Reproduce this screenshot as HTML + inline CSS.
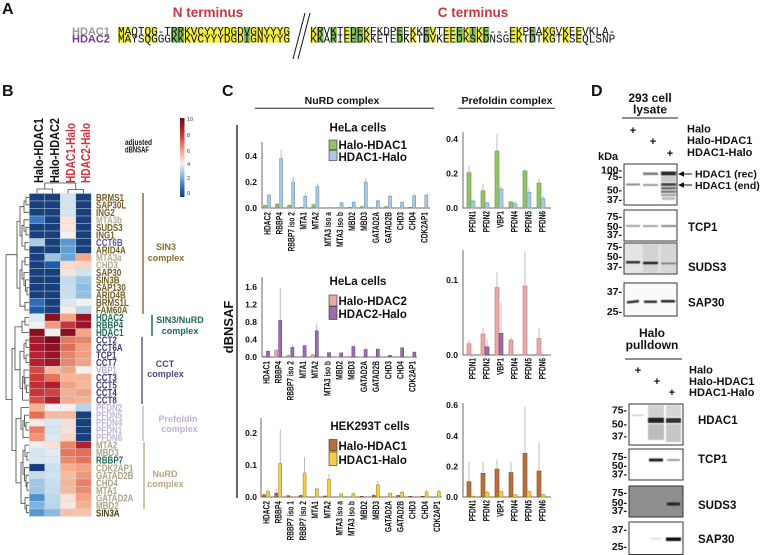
<!DOCTYPE html>
<html><head><meta charset="utf-8">
<style>
html,body{margin:0;padding:0;background:#fff;}
svg{display:block;font-family:"Liberation Sans",Arial,sans-serif;font-weight:bold;}
.b rect,.b line,.hm rect{vector-effect:non-scaling-stroke;}
.ax{stroke:#6a6a6a;stroke-width:1;fill:none}
.er{stroke:#a0a0a0;stroke-width:0.7}
.g{fill:#93c266;stroke:#6a9446;stroke-width:0.6}
.bl{fill:#a9c9e1;stroke:#6f96b5;stroke-width:0.6}
.pk{fill:#eba8a8;stroke:#b57478;stroke-width:0.6}
.pu{fill:#9c6cac;stroke:#6b4581;stroke-width:0.6}
.br{fill:#b9703d;stroke:#80461f;stroke-width:0.6}
.ye{fill:#f5cd45;stroke:#a88c25;stroke-width:0.6}
.d{fill:#19407d}
.xl text{font-size:9px;fill:#111}
.yl text{font-size:8.5px;fill:#111;text-anchor:end}
.rl text{font-size:10px}
.s{fill:#735d25}.t{fill:#b4ab92}.c6{fill:#5b55a0}.h{fill:#1e6a55}.c{fill:#3c3a75}.v{fill:#b8b1cf}.p{fill:#bfb5d3}.n{fill:#aba38a}.k{fill:#4a3c15}
.mk text{font-size:10.5px;text-anchor:end;fill:#111}
.dl{font-size:11.5px;fill:#111}
.seq{font-family:"Liberation Mono",monospace;font-weight:normal;font-size:11.5px;fill:#111}
</style></head><body>
<svg width="760" height="555" viewBox="0 0 760 555" xmlns="http://www.w3.org/2000/svg">
<defs>
<linearGradient id="cb" x1="0" y1="0" x2="0" y2="1">
<stop offset="0" stop-color="#6b0a20"/><stop offset="0.2" stop-color="#c0323a"/><stop offset="0.4" stop-color="#f0a080"/><stop offset="0.58" stop-color="#f5f0ee"/><stop offset="0.75" stop-color="#7fb0d8"/><stop offset="0.88" stop-color="#2e6db0"/><stop offset="1" stop-color="#173b78"/>
</linearGradient>
<filter id="bl1" x="-20%" y="-100%" width="140%" height="300%"><feGaussianBlur stdDeviation="0.6"/></filter>
</defs>
<rect width="760" height="555" fill="#fff"/>

<!-- ===== Panel A ===== -->
<text x="2" y="14" font-size="16" fill="#111">A</text>
<text x="208" y="17" font-size="13.5" fill="#c8373f" text-anchor="middle">N terminus</text>
<text x="473" y="17" font-size="13.5" fill="#c8373f" text-anchor="middle">C terminus</text>
<text x="72" y="35" font-size="11" fill="#9e9499">HDAC1</text>
<text x="72" y="42.5" font-size="11" fill="#6c3d91">HDAC2</text>
<g fill="#f4ef3c">
<rect x="118" y="27" width="13.23" height="15.6"/><rect x="144.46" y="27" width="13.23" height="15.6"/><rect x="184.15" y="27" width="59.54" height="15.6"/><rect x="250.3" y="27" width="39.69" height="15.6"/>
<rect x="310.3" y="27" width="6.63" height="15.6"/><rect x="343.45" y="27" width="6.63" height="15.6"/><rect x="363.34" y="27" width="6.63" height="15.6"/><rect x="409.75" y="27" width="6.63" height="15.6"/><rect x="429.64" y="27" width="6.63" height="15.6"/><rect x="442.9" y="27" width="13.26" height="15.6"/><rect x="462.79" y="27" width="6.63" height="15.6"/><rect x="476.05" y="27" width="6.63" height="15.6"/><rect x="509.2" y="27" width="13.26" height="15.6"/><rect x="542.35" y="27" width="13.26" height="15.6"/><rect x="562.24" y="27" width="6.63" height="15.6"/><rect x="575.5" y="27" width="6.63" height="15.6"/>
</g>
<g fill="#80c05e">
<rect x="170.92" y="27" width="13.23" height="15.6"/><rect x="243.69" y="27" width="6.615" height="15.6"/>
<rect x="316.93" y="27" width="6.63" height="15.6"/><rect x="330.19" y="27" width="6.63" height="15.6"/><rect x="350.08" y="27" width="13.26" height="15.6"/><rect x="396.49" y="27" width="6.63" height="15.6"/><rect x="423.01" y="27" width="6.63" height="15.6"/><rect x="456.16" y="27" width="6.63" height="15.6"/><rect x="469.42" y="27" width="6.63" height="15.6"/><rect x="482.68" y="27" width="6.63" height="15.6"/><rect x="529.09" y="27" width="6.63" height="15.6"/>
</g>
<text class="seq" x="118" y="34.8" textLength="172" lengthAdjust="spacingAndGlyphs">MAQTQG-TRRKVCYYYDGDVGNYYYG</text>
<text class="seq" x="118" y="42.3" textLength="172" lengthAdjust="spacingAndGlyphs">MAYSQGGGKKKVCYYYDGDIGNYYYG</text>
<text class="seq" x="310.3" y="34.8" textLength="305" lengthAdjust="spacingAndGlyphs">KRVKTEDEKEKDPEEKKEVTEEEKTKE---EKPEAKGVKEEVKLA-</text>
<text class="seq" x="310.3" y="42.3" textLength="305" lengthAdjust="spacingAndGlyphs">KKARIEEDKKETEDKKTDVKEEDKSKDNSGEKTDTKGTKSEQLSNP</text>
<line x1="293" y1="59" x2="305" y2="13" stroke="#111" stroke-width="1"/>
<line x1="298" y1="59" x2="310" y2="13" stroke="#111" stroke-width="1"/>

<!-- ===== Panel B ===== -->
<text x="2" y="96" font-size="16" fill="#111">B</text>
<g font-size="13">
<text transform="translate(43,183) rotate(-90)" textLength="65" lengthAdjust="spacingAndGlyphs" fill="#111">Halo-HDAC1</text>
<text transform="translate(59,183) rotate(-90)" textLength="65" lengthAdjust="spacingAndGlyphs" fill="#111">Halo-HDAC2</text>
<text transform="translate(75,183) rotate(-90)" textLength="60" lengthAdjust="spacingAndGlyphs" fill="#d0313a">HDAC1-Halo</text>
<text transform="translate(90,183) rotate(-90)" textLength="60" lengthAdjust="spacingAndGlyphs" fill="#d0313a">HDAC2-Halo</text>
</g>
<text x="125" y="145" font-size="8.5" textLength="27" lengthAdjust="spacingAndGlyphs" fill="#111">adjusted</text>
<text x="125" y="152.5" font-size="8.5" textLength="24" lengthAdjust="spacingAndGlyphs" fill="#111">dBNSAF</text>
<rect x="180" y="118" width="4.5" height="79" fill="url(#cb)"/>
<g font-size="5.5" font-weight="normal" fill="#333">
<text x="187" y="121">10</text><text x="187" y="137">8</text><text x="187" y="153">6</text><text x="187" y="166">4</text><text x="187" y="180">2</text><text x="187" y="195">0</text>
</g>
<g stroke="#444" stroke-width="0.8" fill="none">
<path d="M37 193.5 V189 H52.5 V193.5"/><path d="M68 193.5 V189.5 H83.5 V193.5"/><path d="M44.8 189 V183 H75.8 V189.5"/>
</g>
<g stroke="#444" stroke-width="0.8" fill="none">
<path d="M29 197.3 H26 V204.8 H29"/><path d="M26 201.05 H24 V212.3 H29"/><path d="M29 227.3 H26 V234.9 H29"/><path d="M29 219.8 H24 V231.1 H26"/><path d="M29 242.4 H25 V249.9 H29"/><path d="M24 225.45 H22 V246.15 H25"/><path d="M24 206.7 H20 V235.8 H22"/>
<path d="M29 257.4 H25 V264.9 H29"/><path d="M29 287.4 H27 V294.9 H29"/><path d="M29 279.9 H25.5 V291.15 H27"/><path d="M29 272.4 H24 V285.5 H25.5"/><path d="M25 261.15 H22 V278.95 H24"/><path d="M29 302.4 H25 V310 H29"/><path d="M22 270.05 H20 V306.2 H25"/><path d="M20 221.25 H17 V288.1 H20"/>
<path d="M29 317.5 H25 V325 H29"/><path d="M25 321.25 H22 V332.5 H29"/>
<path d="M29 340 H26 V347.5 H29"/><path d="M29 355 H26 V362.5 H29"/><path d="M26 343.75 H24 V358.75 H26"/><path d="M29 385.1 H26.5 V392.6 H29"/><path d="M29 377.5 H25 V388.85 H26.5"/><path d="M29 370 H24 V383.2 H25"/><path d="M24 376.6 H22.5 V400.1 H29"/><path d="M24 351.25 H20 V388.35 H22.5"/><path d="M22 326.9 H15 V369.8 H20"/>
<path d="M29 422.6 H26 V430.1 H29"/><path d="M29 415.1 H24.5 V426.35 H26"/><path d="M24.5 420.7 H23 V437.6 H29"/><path d="M29 407.6 H21 V429.15 H23"/>
<path d="M29 452.6 H27 V460.1 H29"/><path d="M29 445.1 H25 V456.35 H27"/><path d="M29 482.7 H27 V490.2 H29"/><path d="M29 475.2 H26 V486.45 H27"/><path d="M29 467.7 H24.5 V480.8 H26"/><path d="M25 450.7 H23 V474.25 H24.5"/><path d="M29 505.2 H26.5 V512.7 H29"/><path d="M29 497.7 H25 V508.95 H26.5"/><path d="M23 462.5 H21 V503.3 H25"/>
<path d="M21 418.4 H16 V482.9 H21"/><path d="M15 348.35 H12 V450.65 H16"/><path d="M17 254.7 H6 V399.5 H12"/>
</g>
<g class="hm" transform="translate(29.3,193.5) scale(15.5,7.51)" stroke="#cfd7df" stroke-width="0.4">
<rect class="d" x="0" y="0" width="1" height="1"/><rect class="d" x="1" y="0" width="1" height="1"/><rect x="2" y="0" width="1" height="1" fill="#d3e4ef"/><rect class="d" x="3" y="0" width="1" height="1"/>
<rect class="d" x="0" y="1" width="1" height="1"/><rect class="d" x="1" y="1" width="1" height="1"/><rect x="2" y="1" width="1" height="1" fill="#d3e4ef"/><rect class="d" x="3" y="1" width="1" height="1"/>
<rect class="d" x="0" y="2" width="1" height="1"/><rect class="d" x="1" y="2" width="1" height="1"/><rect x="2" y="2" width="1" height="1" fill="#d6e6f0"/><rect class="d" x="3" y="2" width="1" height="1"/>
<rect x="0" y="3" width="1" height="1" fill="#3a78bf"/><rect class="d" x="1" y="3" width="1" height="1"/><rect x="2" y="3" width="1" height="1" fill="#f8e4da"/><rect class="d" x="3" y="3" width="1" height="1"/>
<rect class="d" x="0" y="4" width="1" height="1"/><rect class="d" x="1" y="4" width="1" height="1"/><rect x="2" y="4" width="1" height="1" fill="#fae6dd"/><rect class="d" x="3" y="4" width="1" height="1"/>
<rect class="d" x="0" y="5" width="1" height="1"/><rect class="d" x="1" y="5" width="1" height="1"/><rect x="2" y="5" width="1" height="1" fill="#f3f1f0"/><rect class="d" x="3" y="5" width="1" height="1"/>
<rect x="0" y="6" width="1" height="1" fill="#a9cde4"/><rect class="d" x="1" y="6" width="1" height="1"/><rect x="2" y="6" width="1" height="1" fill="#5a9ad0"/><rect class="d" x="3" y="6" width="1" height="1"/>
<rect class="d" x="0" y="7" width="1" height="1"/><rect class="d" x="1" y="7" width="1" height="1"/><rect x="2" y="7" width="1" height="1" fill="#5f9ed2"/><rect class="d" x="3" y="7" width="1" height="1"/>
<rect class="d" x="0" y="8" width="1" height="1"/><rect x="1" y="8" width="1" height="1" fill="#9cc4e0"/><rect x="2" y="8" width="1" height="1" fill="#6aa5d5"/><rect x="3" y="8" width="1" height="1" fill="#f3aa8b"/>
<rect class="d" x="0" y="9" width="1" height="1"/><rect x="1" y="9" width="1" height="1" fill="#1c5db0"/><rect x="2" y="9" width="1" height="1" fill="#fbd9cb"/><rect x="3" y="9" width="1" height="1" fill="#fbd4c3"/>
<rect class="d" x="0" y="10" width="1" height="1"/><rect class="d" x="1" y="10" width="1" height="1"/><rect x="2" y="10" width="1" height="1" fill="#fce3d8"/><rect x="3" y="10" width="1" height="1" fill="#d0e4ef"/>
<rect class="d" x="0" y="11" width="1" height="1"/><rect class="d" x="1" y="11" width="1" height="1"/><rect x="2" y="11" width="1" height="1" fill="#c2dcec"/><rect x="3" y="11" width="1" height="1" fill="#a0c7e2"/>
<rect class="d" x="0" y="12" width="1" height="1"/><rect class="d" x="1" y="12" width="1" height="1"/><rect x="2" y="12" width="1" height="1" fill="#c6def0"/><rect x="3" y="12" width="1" height="1" fill="#8dbde0"/>
<rect class="d" x="0" y="13" width="1" height="1"/><rect class="d" x="1" y="13" width="1" height="1"/><rect x="2" y="13" width="1" height="1" fill="#c8dfef"/><rect x="3" y="13" width="1" height="1" fill="#92c0e0"/>
<rect x="0" y="14" width="1" height="1" fill="#2c6db8"/><rect class="d" x="1" y="14" width="1" height="1"/><rect x="2" y="14" width="1" height="1" fill="#dbe9f2"/><rect x="3" y="14" width="1" height="1" fill="#f1f1f1"/>
<rect x="0" y="15" width="1" height="1" fill="#1f5aa8"/><rect class="d" x="1" y="15" width="1" height="1"/><rect x="2" y="15" width="1" height="1" fill="#f7ece6"/><rect x="3" y="15" width="1" height="1" fill="#bdd8ea"/>
<rect x="0" y="16" width="1" height="1" fill="#dde9f1"/><rect x="1" y="16" width="1" height="1" fill="#8e0f1f"/><rect x="2" y="16" width="1" height="1" fill="#f3a487"/><rect x="3" y="16" width="1" height="1" fill="#9a1324"/>
<rect x="0" y="17" width="1" height="1" fill="#f3efee"/><rect x="1" y="17" width="1" height="1" fill="#ee9b7b"/><rect x="2" y="17" width="1" height="1" fill="#c8353b"/><rect x="3" y="17" width="1" height="1" fill="#9d1426"/>
<rect x="0" y="18" width="1" height="1" fill="#8b0e20"/><rect x="1" y="18" width="1" height="1" fill="#f4eeee"/><rect x="2" y="18" width="1" height="1" fill="#8e1020"/><rect x="3" y="18" width="1" height="1" fill="#f3a688"/>
<rect x="0" y="19" width="1" height="1" fill="#a8182b"/><rect x="1" y="19" width="1" height="1" fill="#7a0a1c"/><rect x="2" y="19" width="1" height="1" fill="#e07a62"/><rect x="3" y="19" width="1" height="1" fill="#e5866a"/>
<rect x="0" y="20" width="1" height="1" fill="#a51a2c"/><rect x="1" y="20" width="1" height="1" fill="#8f1022"/><rect x="2" y="20" width="1" height="1" fill="#dd6f58"/><rect x="3" y="20" width="1" height="1" fill="#eea183"/>
<rect x="0" y="21" width="1" height="1" fill="#b8232f"/><rect x="1" y="21" width="1" height="1" fill="#9a1326"/><rect x="2" y="21" width="1" height="1" fill="#e3846a"/><rect x="3" y="21" width="1" height="1" fill="#eea080"/>
<rect x="0" y="22" width="1" height="1" fill="#b4202e"/><rect x="1" y="22" width="1" height="1" fill="#a21528"/><rect x="2" y="22" width="1" height="1" fill="#e6876c"/><rect x="3" y="22" width="1" height="1" fill="#f1a587"/>
<rect x="0" y="23" width="1" height="1" fill="#d14b43"/><rect x="1" y="23" width="1" height="1" fill="#f6b89c"/><rect x="2" y="23" width="1" height="1" fill="#eea486"/><rect x="3" y="23" width="1" height="1" fill="#f5f1f0"/>
<rect x="0" y="24" width="1" height="1" fill="#cb3d3c"/><rect x="1" y="24" width="1" height="1" fill="#e6735a"/><rect x="2" y="24" width="1" height="1" fill="#f6b597"/><rect x="3" y="24" width="1" height="1" fill="#f5b496"/>
<rect x="0" y="25" width="1" height="1" fill="#c22e37"/><rect x="1" y="25" width="1" height="1" fill="#b31e2f"/><rect x="2" y="25" width="1" height="1" fill="#f1a080"/><rect x="3" y="25" width="1" height="1" fill="#f6b698"/>
<rect x="0" y="26" width="1" height="1" fill="#c53539"/><rect x="1" y="26" width="1" height="1" fill="#cf4440"/><rect x="2" y="26" width="1" height="1" fill="#f5af90"/><rect x="3" y="26" width="1" height="1" fill="#f2a385"/>
<rect x="0" y="27" width="1" height="1" fill="#d54f45"/><rect x="1" y="27" width="1" height="1" fill="#b41f30"/><rect x="2" y="27" width="1" height="1" fill="#f3ab8c"/><rect x="3" y="27" width="1" height="1" fill="#f5b395"/>
<rect x="0" y="28" width="1" height="1" fill="#f6b294"/><rect x="1" y="28" width="1" height="1" fill="#f8f0ee"/><rect x="2" y="28" width="1" height="1" fill="#f6eeea"/><rect x="3" y="28" width="1" height="1" fill="#b8d4e8"/>
<rect x="0" y="29" width="1" height="1" fill="#e56e56"/><rect x="1" y="29" width="1" height="1" fill="#f5b99d"/><rect x="2" y="29" width="1" height="1" fill="#f5b99b"/><rect class="d" x="3" y="29" width="1" height="1"/>
<rect x="0" y="30" width="1" height="1" fill="#fcebe3"/><rect x="1" y="30" width="1" height="1" fill="#d8e8f2"/><rect x="2" y="30" width="1" height="1" fill="#f7e0d6"/><rect class="d" x="3" y="30" width="1" height="1"/>
<rect x="0" y="31" width="1" height="1" fill="#ea7e62"/><rect x="1" y="31" width="1" height="1" fill="#d2e4f0"/><rect x="2" y="31" width="1" height="1" fill="#f6e2d8"/><rect class="d" x="3" y="31" width="1" height="1"/>
<rect x="0" y="32" width="1" height="1" fill="#ee9478"/><rect x="1" y="32" width="1" height="1" fill="#d9e8f1"/><rect x="2" y="32" width="1" height="1" fill="#f9d6c8"/><rect class="d" x="3" y="32" width="1" height="1"/>
<rect x="0" y="33" width="1" height="1" fill="#e9eff3"/><rect x="1" y="33" width="1" height="1" fill="#fbe0d3"/><rect x="2" y="33" width="1" height="1" fill="#e88468"/><rect x="3" y="33" width="1" height="1" fill="#b32030"/>
<rect x="0" y="34" width="1" height="1" fill="#d2e5f0"/><rect x="1" y="34" width="1" height="1" fill="#e2ecf2"/><rect x="2" y="34" width="1" height="1" fill="#e5775d"/><rect x="3" y="34" width="1" height="1" fill="#e27058"/>
<rect x="0" y="35" width="1" height="1" fill="#d6e7f1"/><rect x="1" y="35" width="1" height="1" fill="#dbe9f2"/><rect x="2" y="35" width="1" height="1" fill="#ea8a6c"/><rect x="3" y="35" width="1" height="1" fill="#e47458"/>
<rect x="0" y="36" width="1" height="1" fill="#173e7c"/><rect x="1" y="36" width="1" height="1" fill="#cde2ef"/><rect x="2" y="36" width="1" height="1" fill="#f3ae90"/><rect x="3" y="36" width="1" height="1" fill="#f2a385"/>
<rect x="0" y="37" width="1" height="1" fill="#c4dcec"/><rect x="1" y="37" width="1" height="1" fill="#cfe3ef"/><rect x="2" y="37" width="1" height="1" fill="#f6bc9f"/><rect x="3" y="37" width="1" height="1" fill="#ee9678"/>
<rect x="0" y="38" width="1" height="1" fill="#9ec6e2"/><rect x="1" y="38" width="1" height="1" fill="#c6deee"/><rect x="2" y="38" width="1" height="1" fill="#f4b496"/><rect x="3" y="38" width="1" height="1" fill="#e98063"/>
<rect x="0" y="39" width="1" height="1" fill="#9ec6e2"/><rect x="1" y="39" width="1" height="1" fill="#c4dcec"/><rect x="2" y="39" width="1" height="1" fill="#f5b89a"/><rect x="3" y="39" width="1" height="1" fill="#eb8b6e"/>
<rect x="0" y="40" width="1" height="1" fill="#4f92cc"/><rect x="1" y="40" width="1" height="1" fill="#bcd8ea"/><rect x="2" y="40" width="1" height="1" fill="#fbe3d8"/><rect x="3" y="40" width="1" height="1" fill="#f1a486"/>
<rect x="0" y="41" width="1" height="1" fill="#7fb2dc"/><rect x="1" y="41" width="1" height="1" fill="#bad6ea"/><rect x="2" y="41" width="1" height="1" fill="#f9e6de"/><rect x="3" y="41" width="1" height="1" fill="#f4b092"/>
<rect x="0" y="42" width="1" height="1" fill="#5698d0"/><rect x="1" y="42" width="1" height="1" fill="#89bbe0"/><rect x="2" y="42" width="1" height="1" fill="#f6c1a6"/><rect x="3" y="42" width="1" height="1" fill="#f7c2a8"/>
</g>
<g class="rl" transform="translate(96,0) scale(0.8,1)">
<text class="s" y="200.9">BRMS1</text><text class="s" y="208.4">SAP30L</text><text class="s" y="215.9">ING2</text><text class="t" y="223.4">MTA3b</text><text class="s" y="230.9">SUDS3</text><text class="s" y="238.5">ING1</text><text class="c6" y="246">CCT6B</text><text class="s" y="253.5">ARID4A</text><text class="t" y="261">MTA3a</text><text class="t" y="268.5">CHD3</text><text class="s" y="276">SAP30</text><text class="s" y="283.5">SIN3B</text><text class="s" y="291">SAP130</text><text class="s" y="298.5">ARID4B</text><text class="s" y="306">BRMS1L</text><text class="s" y="313.6">FAM60A</text>
<text class="h" y="321.1">HDAC2</text><text class="h" y="328.6">RBBP4</text><text class="h" y="336.1">HDAC1</text>
<text class="c" y="343.6">CCT2</text><text class="c" y="351.1">CCT6A</text><text class="c" y="358.6">TCP1</text><text class="c" y="366.1">CCT7</text><text class="v" y="373.6">VBP1</text><text class="c" y="381.1">CCT3</text><text class="c" y="388.7">CCT5</text><text class="c" y="396.2">CCT4</text><text class="c" y="403.7">CCT8</text>
<text class="p" y="411.2">PFDN2</text><text class="p" y="418.7">PFDN5</text><text class="p" y="426.2">PFDN4</text><text class="p" y="433.7">PFDN1</text><text class="p" y="441.2">PFDN6</text>
<text class="n" y="448.7">MTA2</text><text class="n" y="456.2">MBD3</text><text class="h" y="463.7">RBBP7</text><text class="n" y="471.3">CDK2AP1</text><text class="n" y="478.8">GATAD2B</text><text class="n" y="486.3">CHD4</text><text class="n" y="493.8">MTA1</text><text class="n" y="501.3">GATAD2A</text><text class="n" y="508.8">MBD2</text><text class="k" y="516.3">SIN3A</text>
</g>
<line x1="143" y1="193" x2="143" y2="314" stroke="#8a7040" stroke-width="1.5"/>
<text x="166" y="250" font-size="9" fill="#8a6d2a" text-anchor="middle">SIN3</text>
<text x="166" y="261" font-size="9" fill="#8a6d2a" text-anchor="middle">complex</text>
<line x1="152" y1="315" x2="152" y2="336" stroke="#1e6a55" stroke-width="1.5"/>
<text x="180" y="323" font-size="9" fill="#1e6a55" text-anchor="middle">SIN3/NuRD</text>
<text x="180" y="334" font-size="9" fill="#1e6a55" text-anchor="middle">complex</text>
<line x1="142" y1="337" x2="142" y2="404" stroke="#5d5a8a" stroke-width="1.5"/>
<text x="165" y="367" font-size="9" fill="#4a4880" text-anchor="middle">CCT</text>
<text x="165.5" y="377" font-size="9" fill="#4a4880" text-anchor="middle">complex</text>
<line x1="143" y1="406" x2="143" y2="441" stroke="#c4b8d8" stroke-width="1.5"/>
<text x="178" y="422" font-size="9" fill="#bfb2d4" text-anchor="middle">Prefoldin</text>
<text x="179.5" y="432" font-size="9" fill="#bfb2d4" text-anchor="middle">complex</text>
<line x1="144" y1="442" x2="144" y2="509" stroke="#c0b090" stroke-width="1.5"/>
<text x="165" y="477" font-size="9" fill="#b6a680" text-anchor="middle">NuRD</text>
<text x="165.5" y="487" font-size="9" fill="#b6a680" text-anchor="middle">complex</text>

<!-- ===== Panel C ===== -->
<text x="222" y="96" font-size="16" fill="#111">C</text>
<text x="342" y="104" font-size="10.5" fill="#111" text-anchor="middle">NuRD complex</text>
<line x1="255" y1="108.3" x2="434" y2="108.3" stroke="#222" stroke-width="1"/>
<text x="507" y="104" font-size="10.5" fill="#111" text-anchor="middle">Prefoldin complex</text>
<line x1="458" y1="108.3" x2="555" y2="108.3" stroke="#222" stroke-width="1"/>
<line x1="237" y1="125" x2="237" y2="498" stroke="#333" stroke-width="1.5"/>
<text transform="translate(233,327) rotate(-90)" font-size="13" fill="#111" text-anchor="middle">dBNSAF</text>

<!-- chart 1 -->
<text x="358" y="131.7" font-size="11.5" fill="#111" text-anchor="middle">HeLa cells</text>
<rect x="329" y="140" width="8" height="9.5" class="g" style="stroke:#333"/>
<rect x="329" y="150.5" width="8" height="10" class="bl" style="stroke:#333"/>
<text x="338.5" y="149" class="dl">Halo-HDAC1</text>
<text x="338.5" y="161" class="dl">HDAC1-Halo</text>
<path class="ax" d="M262 142 V208 H430"/>
<g class="yl"><text x="257" y="159">0.4</text><text x="257" y="185">0.2</text><text x="257" y="211">0.0</text></g>
<g class="b" transform="translate(0,208) scale(1,-130)">
<g transform="translate(267,0)"><rect class="g" x="-3.5" width="3" height="0.02"/><rect class="bl" x="0.5" width="3" height="0.10"/><line class="er" x1="2" x2="2" y1="0.10" y2="0.112"/></g>
<g transform="translate(279.1,0)"><rect class="g" x="-3.5" width="3" height="0.03"/><line class="er" x1="-2" x2="-2" y1="0.03" y2="0.04"/><rect class="bl" x="0.5" width="3" height="0.38"/><line class="er" x1="2" x2="2" y1="0.38" y2="0.45"/></g>
<g transform="translate(291.2,0)"><rect class="g" x="-3.5" width="3" height="0.02"/><line class="er" x1="-2" x2="-2" y1="0.02" y2="0.03"/><rect class="bl" x="0.5" width="3" height="0.20"/><line class="er" x1="2" x2="2" y1="0.20" y2="0.24"/></g>
<g transform="translate(303.3,0)"><rect class="g" x="-3.5" width="3" height="0.005"/><rect class="bl" x="0.5" width="3" height="0.09"/><line class="er" x1="2" x2="2" y1="0.09" y2="0.11"/></g>
<g transform="translate(315.4,0)"><rect class="g" x="-3.5" width="3" height="0.025"/><line class="er" x1="-2" x2="-2" y1="0.025" y2="0.035"/><rect class="bl" x="0.5" width="3" height="0.165"/><line class="er" x1="2" x2="2" y1="0.165" y2="0.19"/></g>
<g transform="translate(327.5,0)"><rect class="bl" x="0.5" width="3" height="0.004"/></g>
<g transform="translate(339.6,0)"><rect class="g" x="-3.5" width="3" height="0.003"/><rect class="bl" x="0.5" width="3" height="0.04"/><line class="er" x1="2" x2="2" y1="0.04" y2="0.046"/></g>
<g transform="translate(351.7,0)"><rect class="g" x="-3.5" width="3" height="0.005"/><rect class="bl" x="0.5" width="3" height="0.045"/><line class="er" x1="2" x2="2" y1="0.045" y2="0.05"/></g>
<g transform="translate(363.8,0)"><rect class="g" x="-3.5" width="3" height="0.01"/><line class="er" x1="-2" x2="-2" y1="0.01" y2="0.018"/><rect class="bl" x="0.5" width="3" height="0.20"/><line class="er" x1="2" x2="2" y1="0.20" y2="0.23"/></g>
<g transform="translate(375.9,0)"><rect class="g" x="-3.5" width="3" height="0.003"/><rect class="bl" x="0.5" width="3" height="0.055"/><line class="er" x1="2" x2="2" y1="0.055" y2="0.062"/></g>
<g transform="translate(388,0)"><rect class="g" x="-3.5" width="3" height="0.01"/><rect class="bl" x="0.5" width="3" height="0.09"/><line class="er" x1="2" x2="2" y1="0.09" y2="0.1"/></g>
<g transform="translate(400.1,0)"><rect class="bl" x="0.5" width="3" height="0.045"/><line class="er" x1="2" x2="2" y1="0.045" y2="0.05"/></g>
<g transform="translate(412.2,0)"><rect class="g" x="-3.5" width="3" height="0.005"/><rect class="bl" x="0.5" width="3" height="0.095"/><line class="er" x1="2" x2="2" y1="0.095" y2="0.105"/></g>
<g transform="translate(424.3,0)"><rect class="bl" x="0.5" width="3" height="0.10"/><line class="er" x1="2" x2="2" y1="0.10" y2="0.108"/></g>
</g>
<g class="xl" text-anchor="end">
<text transform="translate(270.3,212) rotate(-90) scale(0.74,1)">HDAC2</text>
<text transform="translate(282.4,212) rotate(-90) scale(0.74,1)">RBBP4</text>
<text transform="translate(294.5,212) rotate(-90) scale(0.74,1)">RBBP7 iso 2</text>
<text transform="translate(306.6,212) rotate(-90) scale(0.74,1)">MTA1</text>
<text transform="translate(318.7,212) rotate(-90) scale(0.74,1)">MTA2</text>
<text transform="translate(330.8,212) rotate(-90) scale(0.74,1)">MTA3 iso a</text>
<text transform="translate(342.9,212) rotate(-90) scale(0.74,1)">MTA3 iso b</text>
<text transform="translate(355,212) rotate(-90) scale(0.74,1)">MBD2</text>
<text transform="translate(367.1,212) rotate(-90) scale(0.74,1)">MBD3</text>
<text transform="translate(379.2,212) rotate(-90) scale(0.74,1)">GATAD2A</text>
<text transform="translate(391.3,212) rotate(-90) scale(0.74,1)">GATAD2B</text>
<text transform="translate(403.4,212) rotate(-90) scale(0.74,1)">CHD3</text>
<text transform="translate(415.5,212) rotate(-90) scale(0.74,1)">CHD4</text>
<text transform="translate(427.6,212) rotate(-90) scale(0.74,1)">CDK2AP1</text>
</g>

<!-- chart 2 -->
<text x="358" y="285" font-size="11.5" fill="#111" text-anchor="middle">HeLa cells</text>
<rect x="329" y="295" width="8" height="11" class="pk" style="stroke:#333"/>
<rect x="329" y="306.5" width="8" height="13" class="pu" style="stroke:#333"/>
<text x="338.5" y="305" class="dl">Halo-HDAC2</text>
<text x="338.5" y="318" class="dl">HDAC2-Halo</text>
<path class="ax" d="M262 277 V357 H417"/>
<g class="yl"><text x="257" y="290">1.6</text><text x="257" y="307.5">1.2</text><text x="257" y="325">0.8</text><text x="257" y="342.5">0.4</text><text x="257" y="360">0.0</text></g>
<g class="b" transform="translate(0,357) scale(1,-43.75)">
<g transform="translate(266,0)"><rect class="pk" x="-3.5" width="3" height="0.02"/><line class="er" x1="-2" x2="-2" y1="0.02" y2="0.035"/><rect class="pu" x="0.5" width="3" height="0.13"/><line class="er" x1="2" x2="2" y1="0.13" y2="0.16"/></g>
<g transform="translate(278.2,0)"><rect class="pk" x="-3.5" width="3" height="0.15"/><line class="er" x1="-2" x2="-2" y1="0.15" y2="0.19"/><rect class="pu" x="0.5" width="3" height="0.84"/><line class="er" x1="2" x2="2" y1="0.84" y2="1.58"/></g>
<g transform="translate(290.4,0)"><rect class="pk" x="-3.5" width="3" height="0.04"/><line class="er" x1="-2" x2="-2" y1="0.04" y2="0.06"/><rect class="pu" x="0.5" width="3" height="0.22"/><line class="er" x1="2" x2="2" y1="0.22" y2="0.28"/></g>
<g transform="translate(302.6,0)"><rect class="pk" x="-3.5" width="3" height="0.01"/><rect class="pu" x="0.5" width="3" height="0.26"/><line class="er" x1="2" x2="2" y1="0.26" y2="0.28"/></g>
<g transform="translate(314.8,0)"><rect class="pk" x="-3.5" width="3" height="0.05"/><line class="er" x1="-2" x2="-2" y1="0.05" y2="0.065"/><rect class="pu" x="0.5" width="3" height="0.60"/><line class="er" x1="2" x2="2" y1="0.60" y2="0.77"/></g>
<g transform="translate(327,0)"><rect class="pk" x="-3.5" width="3" height="0.005"/><rect class="pu" x="0.5" width="3" height="0.10"/><line class="er" x1="2" x2="2" y1="0.10" y2="0.115"/></g>
<g transform="translate(339.2,0)"><rect class="pk" x="-3.5" width="3" height="0.005"/><rect class="pu" x="0.5" width="3" height="0.09"/><line class="er" x1="2" x2="2" y1="0.09" y2="0.12"/></g>
<g transform="translate(351.4,0)"><rect class="pk" x="-3.5" width="3" height="0.01"/><rect class="pu" x="0.5" width="3" height="0.24"/><line class="er" x1="2" x2="2" y1="0.24" y2="0.27"/></g>
<g transform="translate(363.6,0)"><rect class="pk" x="-3.5" width="3" height="0.005"/><rect class="pu" x="0.5" width="3" height="0.17"/><line class="er" x1="2" x2="2" y1="0.17" y2="0.19"/></g>
<g transform="translate(375.8,0)"><rect class="pk" x="-3.5" width="3" height="0.01"/><rect class="pu" x="0.5" width="3" height="0.18"/><line class="er" x1="2" x2="2" y1="0.18" y2="0.19"/></g>
<g transform="translate(388,0)"><rect class="pu" x="0.5" width="3" height="0.04"/><line class="er" x1="2" x2="2" y1="0.04" y2="0.05"/></g>
<g transform="translate(400.2,0)"><rect class="pk" x="-3.5" width="3" height="0.01"/><rect class="pu" x="0.5" width="3" height="0.21"/><line class="er" x1="2" x2="2" y1="0.21" y2="0.22"/></g>
<g transform="translate(412.4,0)"><rect class="pk" x="-3.5" width="3" height="0.005"/><rect class="pu" x="0.5" width="3" height="0.11"/><line class="er" x1="2" x2="2" y1="0.11" y2="0.13"/></g>
</g>
<g class="xl" text-anchor="end">
<text transform="translate(269.3,361) rotate(-90) scale(0.74,1)">HDAC1</text>
<text transform="translate(281.5,361) rotate(-90) scale(0.74,1)">RBBP4</text>
<text transform="translate(293.7,361) rotate(-90) scale(0.74,1)">RBBP7 iso 2</text>
<text transform="translate(305.9,361) rotate(-90) scale(0.74,1)">MTA1</text>
<text transform="translate(318.1,361) rotate(-90) scale(0.74,1)">MTA2</text>
<text transform="translate(330.3,361) rotate(-90) scale(0.74,1)">MTA3 iso b</text>
<text transform="translate(342.5,361) rotate(-90) scale(0.74,1)">MBD2</text>
<text transform="translate(354.7,361) rotate(-90) scale(0.74,1)">MBD3</text>
<text transform="translate(366.9,361) rotate(-90) scale(0.74,1)">GATAD2A</text>
<text transform="translate(379.1,361) rotate(-90) scale(0.74,1)">GATAD2B</text>
<text transform="translate(391.3,361) rotate(-90) scale(0.74,1)">CHD3</text>
<text transform="translate(403.5,361) rotate(-90) scale(0.74,1)">CHD4</text>
<text transform="translate(415.7,361) rotate(-90) scale(0.74,1)">CDK2AP1</text>
</g>

<!-- chart 3 -->
<text x="370" y="430" font-size="11.5" fill="#111" text-anchor="middle">HEK293T cells</text>
<rect x="329" y="439.5" width="8" height="11.5" class="br" style="stroke:#333"/>
<rect x="329" y="452" width="8" height="13.5" class="ye" style="stroke:#333"/>
<text x="338.5" y="450" class="dl">Halo-HDAC1</text>
<text x="338.5" y="464" class="dl">HDAC1-Halo</text>
<path class="ax" d="M261 418 V497 H442"/>
<g class="yl"><text x="257" y="436">0.2</text><text x="257" y="468">0.1</text><text x="257" y="500">0.0</text></g>
<g class="b" transform="translate(0,497) scale(1,-320)">
<g transform="translate(266,0)"><rect class="br" x="-3.5" width="3" height="0.007"/><line class="er" x1="-2" x2="-2" y1="0.007" y2="0.012"/><rect class="ye" x="0.5" width="3" height="0.018"/><line class="er" x1="2" x2="2" y1="0.018" y2="0.025"/></g>
<g transform="translate(278.2,0)"><rect class="br" x="-3.5" width="3" height="0.012"/><line class="er" x1="-2" x2="-2" y1="0.012" y2="0.025"/><rect class="ye" x="0.5" width="3" height="0.105"/><line class="er" x1="2" x2="2" y1="0.105" y2="0.21"/></g>
<g transform="translate(290.4,0)"><rect class="br" x="-3.5" width="3" height="0.004"/><line class="er" x1="-2" x2="-2" y1="0.004" y2="0.006"/></g>
<g transform="translate(302.6,0)"><rect class="br" x="-3.5" width="3" height="0.005"/><line class="er" x1="-2" x2="-2" y1="0.005" y2="0.008"/><rect class="ye" x="0.5" width="3" height="0.075"/><line class="er" x1="2" x2="2" y1="0.075" y2="0.125"/></g>
<g transform="translate(314.8,0)"><rect class="ye" x="0.5" width="3" height="0.025"/><line class="er" x1="2" x2="2" y1="0.025" y2="0.03"/></g>
<g transform="translate(327,0)"><rect class="br" x="-3.5" width="3" height="0.003"/><rect class="ye" x="0.5" width="3" height="0.055"/><line class="er" x1="2" x2="2" y1="0.055" y2="0.072"/></g>
<g transform="translate(339.2,0)"><rect class="ye" x="0.5" width="3" height="0.01"/><line class="er" x1="2" x2="2" y1="0.01" y2="0.012"/></g>
<g transform="translate(351.4,0)"><rect class="ye" x="0.5" width="3" height="0.01"/><line class="er" x1="2" x2="2" y1="0.01" y2="0.015"/></g>
<g transform="translate(363.6,0)"><rect class="br" x="-3.5" width="3" height="0.002"/></g>
<g transform="translate(375.8,0)"><rect class="br" x="-3.5" width="3" height="0.005"/><line class="er" x1="-2" x2="-2" y1="0.005" y2="0.01"/><rect class="ye" x="0.5" width="3" height="0.038"/><line class="er" x1="2" x2="2" y1="0.038" y2="0.05"/></g>
<g transform="translate(388,0)"><rect class="ye" x="0.5" width="3" height="0.012"/><line class="er" x1="2" x2="2" y1="0.012" y2="0.014"/></g>
<g transform="translate(400.2,0)"><rect class="br" x="-3.5" width="3" height="0.005"/><rect class="ye" x="0.5" width="3" height="0.015"/><line class="er" x1="2" x2="2" y1="0.015" y2="0.018"/></g>
<g transform="translate(412.4,0)"><rect class="br" x="-3.5" width="3" height="0.002"/></g>
<g transform="translate(424.6,0)"><rect class="br" x="-3.5" width="3" height="0.002"/><rect class="ye" x="0.5" width="3" height="0.016"/><line class="er" x1="2" x2="2" y1="0.016" y2="0.022"/></g>
<g transform="translate(436.8,0)"><rect class="ye" x="0.5" width="3" height="0.017"/><line class="er" x1="2" x2="2" y1="0.017" y2="0.025"/></g>
</g>
<g class="xl" text-anchor="end">
<text transform="translate(269.3,501) rotate(-90) scale(0.74,1)">HDAC2</text>
<text transform="translate(281.5,501) rotate(-90) scale(0.74,1)">RBBP4</text>
<text transform="translate(293.7,501) rotate(-90) scale(0.74,1)">RBBP7 iso 1</text>
<text transform="translate(305.9,501) rotate(-90) scale(0.74,1)">RBBP7 iso 2</text>
<text transform="translate(318.1,501) rotate(-90) scale(0.74,1)">MTA1</text>
<text transform="translate(330.3,501) rotate(-90) scale(0.74,1)">MTA2</text>
<text transform="translate(342.5,501) rotate(-90) scale(0.74,1)">MTA3 iso a</text>
<text transform="translate(354.7,501) rotate(-90) scale(0.74,1)">MTA3 iso b</text>
<text transform="translate(366.9,501) rotate(-90) scale(0.74,1)">MBD2</text>
<text transform="translate(379.1,501) rotate(-90) scale(0.74,1)">MBD3</text>
<text transform="translate(391.3,501) rotate(-90) scale(0.74,1)">GATAD2A</text>
<text transform="translate(403.5,501) rotate(-90) scale(0.74,1)">GATAD2B</text>
<text transform="translate(415.7,501) rotate(-90) scale(0.74,1)">CHD3</text>
<text transform="translate(427.9,501) rotate(-90) scale(0.74,1)">CHD4</text>
<text transform="translate(440.1,501) rotate(-90) scale(0.74,1)">CDK2AP1</text>
</g>

<!-- prefoldin 1 -->
<path class="ax" d="M463 132 V208 H551"/>
<g class="yl"><text x="458" y="142">0.4</text><text x="458" y="176.5">0.2</text><text x="458" y="211">0.0</text></g>
<g class="b" transform="translate(0,208) scale(1,-172.5)">
<g transform="translate(472,0)"><rect class="g" x="-5" width="4" height="0.205"/><line class="er" x1="-3" x2="-3" y1="0.205" y2="0.245"/><rect class="bl" x="-1" width="4" height="0.04"/><line class="er" x1="1" x2="1" y1="0.04" y2="0.05"/></g>
<g transform="translate(486,0)"><rect class="g" x="-5" width="4" height="0.10"/><line class="er" x1="-3" x2="-3" y1="0.10" y2="0.14"/><rect class="bl" x="-1" width="4" height="0.03"/><line class="er" x1="1" x2="1" y1="0.03" y2="0.035"/></g>
<g transform="translate(500,0)"><rect class="g" x="-5" width="4" height="0.33"/><line class="er" x1="-3" x2="-3" y1="0.33" y2="0.43"/><rect class="bl" x="-1" width="4" height="0.11"/><line class="er" x1="1" x2="1" y1="0.11" y2="0.13"/></g>
<g transform="translate(514,0)"><rect class="g" x="-5" width="4" height="0.035"/><line class="er" x1="-3" x2="-3" y1="0.035" y2="0.04"/><rect class="bl" x="-1" width="4" height="0.025"/><line class="er" x1="1" x2="1" y1="0.025" y2="0.04"/></g>
<g transform="translate(528,0)"><rect class="g" x="-5" width="4" height="0.215"/><line class="er" x1="-3" x2="-3" y1="0.215" y2="0.225"/><rect class="bl" x="-1" width="4" height="0.09"/><line class="er" x1="1" x2="1" y1="0.09" y2="0.12"/></g>
<g transform="translate(542,0)"><rect class="g" x="-5" width="4" height="0.145"/><line class="er" x1="-3" x2="-3" y1="0.145" y2="0.17"/><rect class="bl" x="-1" width="4" height="0.055"/><line class="er" x1="1" x2="1" y1="0.055" y2="0.07"/></g>
</g>
<g class="xl" text-anchor="end">
<text transform="translate(475.3,211) rotate(-90) scale(0.72,1)">PFDN1</text>
<text transform="translate(489.3,211) rotate(-90) scale(0.72,1)">PFDN2</text>
<text transform="translate(503.3,211) rotate(-90) scale(0.72,1)">VBP1</text>
<text transform="translate(517.3,211) rotate(-90) scale(0.72,1)">PFDN4</text>
<text transform="translate(531.3,211) rotate(-90) scale(0.72,1)">PFDN5</text>
<text transform="translate(545.3,211) rotate(-90) scale(0.72,1)">PFDN6</text>
</g>

<!-- prefoldin 2 -->
<path class="ax" d="M463 250 V355 H551"/>
<g class="yl"><text x="458" y="283">0.1</text><text x="458" y="358">0.0</text></g>
<g class="b" transform="translate(0,355) scale(1,-750)">
<g transform="translate(472,0)"><rect class="pk" x="-5" width="4" height="0.015"/><line class="er" x1="-3" x2="-3" y1="0.015" y2="0.02"/></g>
<g transform="translate(486,0)"><rect class="pk" x="-5" width="4" height="0.028"/><line class="er" x1="-3" x2="-3" y1="0.028" y2="0.036"/><rect class="pu" x="-1" width="4" height="0.011"/><line class="er" x1="1" x2="1" y1="0.011" y2="0.021"/></g>
<g transform="translate(500,0)"><rect class="pk" x="-5" width="4" height="0.09"/><line class="er" x1="-3" x2="-3" y1="0.09" y2="0.11"/><rect class="pu" x="-1" width="4" height="0.029"/><line class="er" x1="1" x2="1" y1="0.029" y2="0.07"/></g>
<g transform="translate(514,0)"><rect class="pk" x="-5" width="4" height="0.02"/><line class="er" x1="-3" x2="-3" y1="0.02" y2="0.023"/></g>
<g transform="translate(528,0)"><rect class="pk" x="-5" width="4" height="0.092"/><line class="er" x1="-3" x2="-3" y1="0.092" y2="0.138"/></g>
<g transform="translate(542,0)"><rect class="pk" x="-5" width="4" height="0.022"/><line class="er" x1="-3" x2="-3" y1="0.022" y2="0.036"/></g>
</g>
<g class="xl" text-anchor="end">
<text transform="translate(475.3,358) rotate(-90) scale(0.72,1)">PFDN1</text>
<text transform="translate(489.3,358) rotate(-90) scale(0.72,1)">PFDN2</text>
<text transform="translate(503.3,358) rotate(-90) scale(0.72,1)">VBP1</text>
<text transform="translate(517.3,358) rotate(-90) scale(0.72,1)">PFDN4</text>
<text transform="translate(531.3,358) rotate(-90) scale(0.72,1)">PFDN5</text>
<text transform="translate(545.3,358) rotate(-90) scale(0.72,1)">PFDN6</text>
</g>

<!-- prefoldin 3 -->
<path class="ax" d="M463 403 V497 H551"/>
<g class="yl"><text x="458" y="408">0.6</text><text x="458" y="439">0.4</text><text x="458" y="469.5">0.2</text><text x="458" y="500">0.0</text></g>
<g class="b" transform="translate(0,497) scale(1,-153)">
<g transform="translate(472,0)"><rect class="br" x="-5" width="4" height="0.10"/><line class="er" x1="-3" x2="-3" y1="0.10" y2="0.23"/><rect class="ye" x="-1" width="4" height="0.005"/></g>
<g transform="translate(486,0)"><rect class="br" x="-5" width="4" height="0.155"/><line class="er" x1="-3" x2="-3" y1="0.155" y2="0.23"/><rect class="ye" x="-1" width="4" height="0.03"/><line class="er" x1="1" x2="1" y1="0.03" y2="0.045"/></g>
<g transform="translate(500,0)"><rect class="br" x="-5" width="4" height="0.183"/><line class="er" x1="-3" x2="-3" y1="0.183" y2="0.245"/><rect class="ye" x="-1" width="4" height="0.035"/><line class="er" x1="1" x2="1" y1="0.035" y2="0.04"/></g>
<g transform="translate(514,0)"><rect class="br" x="-5" width="4" height="0.16"/><line class="er" x1="-3" x2="-3" y1="0.16" y2="0.23"/><rect class="ye" x="-1" width="4" height="0.015"/><line class="er" x1="1" x2="1" y1="0.015" y2="0.02"/></g>
<g transform="translate(528,0)"><rect class="br" x="-5" width="4" height="0.285"/><line class="er" x1="-3" x2="-3" y1="0.285" y2="0.59"/><rect class="ye" x="-1" width="4" height="0.035"/><line class="er" x1="1" x2="1" y1="0.035" y2="0.04"/></g>
<g transform="translate(542,0)"><rect class="br" x="-5" width="4" height="0.17"/><line class="er" x1="-3" x2="-3" y1="0.17" y2="0.355"/><rect class="ye" x="-1" width="4" height="0.015"/><line class="er" x1="1" x2="1" y1="0.015" y2="0.02"/></g>
</g>
<g class="xl" text-anchor="end">
<text transform="translate(475.3,500) rotate(-90) scale(0.72,1)">PFDN1</text>
<text transform="translate(489.3,500) rotate(-90) scale(0.72,1)">PFDN2</text>
<text transform="translate(503.3,500) rotate(-90) scale(0.72,1)">VBP1</text>
<text transform="translate(517.3,500) rotate(-90) scale(0.72,1)">PFDN4</text>
<text transform="translate(531.3,500) rotate(-90) scale(0.72,1)">PFDN5</text>
<text transform="translate(545.3,500) rotate(-90) scale(0.72,1)">PFDN6</text>
</g>

<!-- ===== Panel D ===== -->
<text x="591" y="96" font-size="16" fill="#111">D</text>
<text x="650" y="102" font-size="12" fill="#111" text-anchor="middle">293 cell</text>
<text x="650" y="113.5" font-size="12" fill="#111" text-anchor="middle">lysate</text>
<line x1="622" y1="118" x2="678" y2="118" stroke="#222" stroke-width="1"/>
<g font-size="11" fill="#111" text-anchor="middle"><text x="633" y="134">+</text><text x="653" y="145">+</text><text x="670" y="157">+</text></g>
<g font-size="11" fill="#111"><text x="687" y="132.5">Halo</text><text x="687" y="144">Halo-HDAC1</text><text x="687" y="156">HDAC1-Halo</text></g>
<text x="598" y="160" font-size="11" fill="#111">kDa</text>

<rect x="624" y="164" width="53" height="41" fill="#fff" stroke="#333"/>
<g class="mk"><text x="622" y="173.3">100-</text><text x="622" y="180">75-</text><text x="622" y="193.3">50-</text><text x="622" y="203">37-</text></g>
<g filter="url(#bl1)">
<rect x="643" y="172.5" width="15" height="2.5" fill="#777"/>
<rect x="661" y="171.5" width="15" height="4" fill="#2a2a2a"/>
<rect x="661" y="176" width="15" height="6" fill="#c8c8c8"/>
<rect x="626" y="183.5" width="14" height="2" fill="#8a8a8a"/>
<rect x="643" y="184" width="15" height="2" fill="#999"/>
<rect x="661" y="183" width="15" height="3" fill="#444"/>
<rect x="661" y="187" width="15" height="2.5" fill="#666"/>
<rect x="661" y="190.5" width="15" height="2.5" fill="#777"/>
<rect x="661" y="194" width="15" height="2" fill="#999"/>
<rect x="662" y="197" width="13" height="3" fill="#bbb"/>
</g>
<line x1="680" y1="174" x2="692" y2="174" stroke="#111" stroke-width="1"/>
<polygon points="678,174 684,171.3 684,176.7" fill="#111"/>
<text x="695" y="177.5" font-size="10.5" fill="#111">HDAC1 (rec)</text>
<line x1="680" y1="185" x2="692" y2="185" stroke="#111" stroke-width="1"/>
<polygon points="678,185 684,182.3 684,187.7" fill="#111"/>
<text x="695" y="189" font-size="10.5" fill="#111">HDAC1 (end)</text>

<rect x="624" y="210" width="53" height="31" fill="#fff" stroke="#333"/>
<g class="mk"><text x="622" y="220">75-</text><text x="622" y="230">50-</text><text x="622" y="238">37-</text></g>
<g filter="url(#bl1)"><rect x="626" y="225" width="14" height="1.8" fill="#999"/><rect x="643" y="225.2" width="15" height="1.8" fill="#999"/><rect x="661" y="225" width="15" height="2" fill="#888"/></g>
<text x="688" y="231" class="dl">TCP1</text>

<rect x="624" y="243" width="53" height="31" fill="#e4e4e4" stroke="#333"/>
<g filter="url(#bl1)"><rect x="643" y="244" width="15" height="29" fill="#d2d2d2"/><rect x="661" y="244" width="15" height="29" fill="#d6d6d6"/>
<rect x="626" y="261" width="14" height="2.5" fill="#333"/><rect x="643" y="261.5" width="15" height="3" fill="#222"/><rect x="661" y="262.5" width="15" height="1.8" fill="#777"/></g>
<g class="mk"><text x="622" y="250">75-</text><text x="622" y="260">50-</text><text x="622" y="270">37-</text></g>
<text x="688" y="271" class="dl">SUDS3</text>

<rect x="624" y="283" width="53" height="33" fill="#fafafa" stroke="#333"/>
<g filter="url(#bl1)"><rect x="627" y="300.5" width="12" height="2.5" fill="#333" transform="rotate(-6 633 302)"/><rect x="644" y="300.5" width="13" height="2.5" fill="#333"/><rect x="661" y="300" width="14" height="2.5" fill="#2a2a2a"/></g>
<g class="mk"><text x="622" y="295">37-</text><text x="622" y="315">25-</text></g>
<text x="688" y="306.5" class="dl">SAP30</text>

<text x="652" y="337" font-size="12" fill="#111" text-anchor="middle">Halo</text>
<text x="652" y="349" font-size="12" fill="#111" text-anchor="middle">pulldown</text>
<line x1="625" y1="359" x2="682" y2="359" stroke="#222" stroke-width="1"/>
<g font-size="11" fill="#111" text-anchor="middle"><text x="638" y="374">+</text><text x="657" y="385">+</text><text x="672" y="396">+</text></g>
<g font-size="11" fill="#111"><text x="689" y="373.3">Halo</text><text x="689" y="385">Halo-HDAC1</text><text x="689" y="396">HDAC1-Halo</text></g>

<rect x="629" y="404" width="54" height="41" fill="#fff" stroke="#333"/>
<g filter="url(#bl1)">
<rect x="632" y="414.5" width="12" height="1.5" fill="#ccc"/>
<rect x="648" y="405" width="16" height="12" fill="#cfcfcf"/>
<rect x="648" y="417.5" width="16" height="5.5" fill="#222"/>
<rect x="648" y="424" width="16" height="16" fill="#bdbdbd"/>
<rect x="666" y="405" width="15" height="12" fill="#d6d6d6"/>
<rect x="666" y="418" width="15" height="5" fill="#333"/>
<rect x="666" y="424" width="15" height="18" fill="#c6c6c6"/>
</g>
<g class="mk"><text x="627" y="413.3">75-</text><text x="627" y="427.3">50-</text><text x="627" y="439.3">37-</text></g>
<text x="698" y="424" class="dl">HDAC1</text>

<rect x="629" y="449" width="54" height="31" fill="#fff" stroke="#333"/>
<g filter="url(#bl1)"><rect x="649" y="458.5" width="14" height="3" fill="#222"/><rect x="667" y="459" width="13" height="2" fill="#999"/></g>
<g class="mk"><text x="627" y="460">75-</text><text x="627" y="469">50-</text><text x="627" y="477.5">37-</text></g>
<text x="698" y="463" class="dl">TCP1</text>

<rect x="629" y="486" width="54" height="31" fill="#8e8e8e" stroke="#333"/>
<g filter="url(#bl1)"><rect x="667" y="502.5" width="13" height="3" fill="#222"/></g>
<g class="mk"><text x="627" y="496">75-</text><text x="627" y="506">50-</text><text x="627" y="514">37-</text></g>
<text x="698" y="509" class="dl">SUDS3</text>

<rect x="629" y="522" width="54" height="32.5" fill="#fff" stroke="#333"/>
<g filter="url(#bl1)"><rect x="650" y="538" width="12" height="1.5" fill="#ddd"/><rect x="666" y="537.5" width="15" height="3.5" fill="#111"/></g>
<g class="mk"><text x="627" y="533">37-</text><text x="627" y="550">25-</text></g>
<text x="698" y="543" class="dl">SAP30</text>
</svg>
</body></html>
